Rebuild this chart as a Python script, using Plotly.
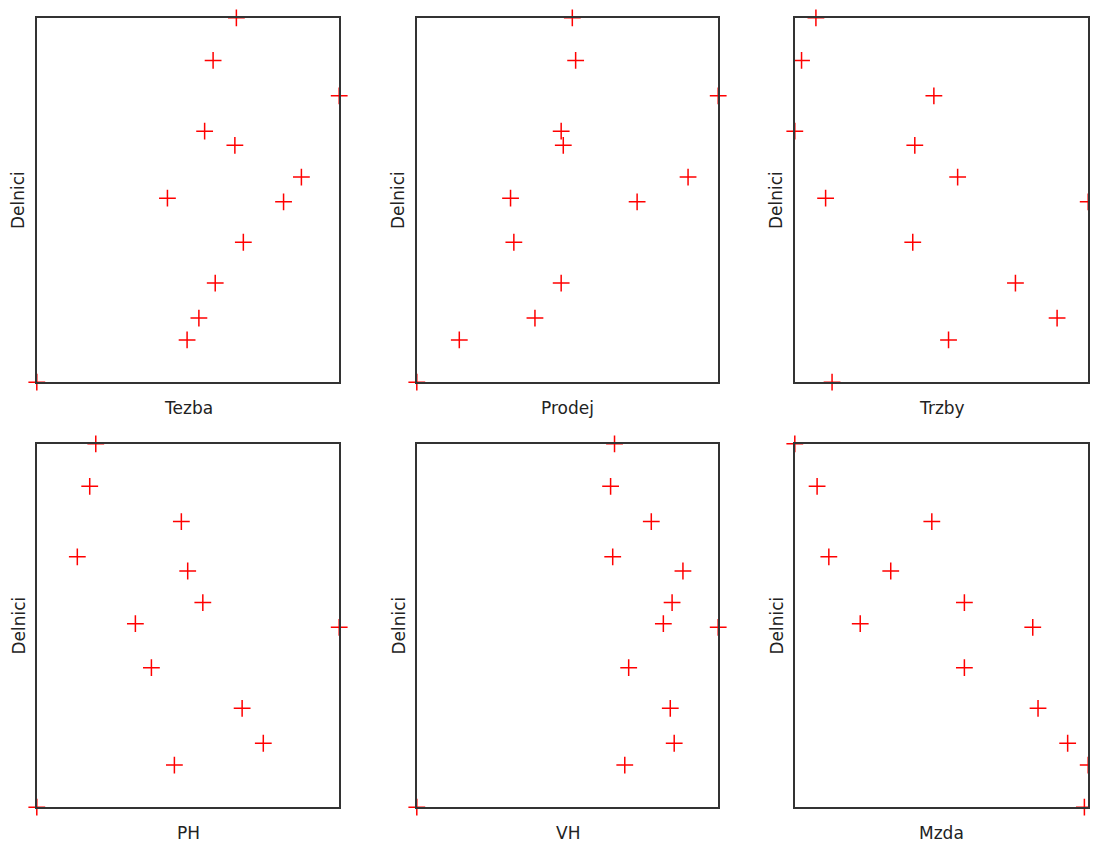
import plotly.graph_objects as go

# Shared y variable (relative units, 0 = min, 100 = max)
delnici = [100, 88.3, 78.6, 68.9, 65.0, 56.3, 50.5, 49.5, 38.4, 27.2, 17.6, 11.6, 0]

# x variables (relative units, 0 = min, 100 = max)
tezba = [66.0, 58.3, 100, 55.5, 65.5, 87.5, 43.2, 81.6, 68.3, 59.0, 53.6, 49.7, 0]
prodej = [51.6, 52.7, 100, 47.9, 48.6, 90.0, 31.1, 73.1, 32.2, 47.9, 39.2, 14.1, 0]
trzby = [7.2, 2.3, 47.4, 0, 40.9, 55.5, 10.5, 100, 40.2, 75.2, 89.4, 52.4, 12.7]
ph = [19.5, 17.5, 47.8, 13.4, 49.9, 54.9, 32.6, 100, 37.9, 67.9, 74.9, 45.5, 0]
vh = [65.6, 64.3, 77.8, 65.0, 88.3, 84.7, 81.8, 100, 70.3, 84.1, 85.4, 69.0, 0]
mzda = [0, 7.6, 46.7, 11.6, 32.7, 57.8, 22.3, 81.1, 57.8, 82.9, 93.0, 100, 98.7]

x_names = ["Tezba", "Prodej", "Trzby", "PH", "VH", "Mzda"]
x_series = [tezba, prodej, trzby, ph, vh, mzda]
y_name = "Delnici"

# The page body adds an 8 px margin, so the figure is drawn 8 px in from the corner
OFF = 8
W, H = 1098 - OFF, 844 - OFF
col_px = [(36, 340), (416, 719), (794, 1089)]   # page pixels
row_px = [(17, 383), (443, 808)]

FONT = "DejaVu Sans"
TXT = "#222222"
FS = 17

fig = go.Figure()
layout = dict(
    width=W, height=H,
    margin=dict(l=0, r=0, t=0, b=0),
    paper_bgcolor="white", plot_bgcolor="white",
    showlegend=False,
    font=dict(family=FONT, size=FS, color=TXT),
    annotations=[],
)

def fx(p):
    return (p - OFF) / W

def fy(p):
    return 1 - (p - OFF) / H

for i, (name, xs) in enumerate(zip(x_names, x_series)):
    r, c = divmod(i, 3)
    x0, x1 = col_px[c]
    y0, y1 = row_px[r]
    n = "" if i == 0 else str(i + 1)
    fig.add_trace(go.Scatter(
        x=xs, y=delnici, mode="markers",
        xaxis="x" + n, yaxis="y" + n,
        cliponaxis=False,
        marker=dict(symbol="cross-thin", size=12,
                    line=dict(color="#ff0000", width=1.5), color="#ff0000"),
        hoverinfo="x+y",
    ))
    ax_common = dict(
        showgrid=False, zeroline=False, showticklabels=False, ticks="",
        showline=True, mirror=True, linecolor="#333333", linewidth=1.6,
        range=[0, 100], fixedrange=True, layer="above traces",
    )
    layout["xaxis" + n] = dict(ax_common, domain=[fx(x0 + 0.8), fx(x1 - 0.8)], anchor="y" + n)
    layout["yaxis" + n] = dict(ax_common, domain=[fy(y1 - 0.8), fy(y0 + 0.8)], anchor="x" + n)
    # axis titles
    layout["annotations"].append(dict(
        text=name, xref="paper", yref="paper",
        x=fx((x0 + x1) / 2), y=fy(y1 + 25),
        xanchor="center", yanchor="middle", showarrow=False,
        font=dict(family=FONT, size=FS, color=TXT),
    ))
    layout["annotations"].append(dict(
        text=y_name, xref="paper", yref="paper",
        x=fx(x0 - 18), y=fy((y0 + y1) / 2),
        xanchor="center", yanchor="middle", showarrow=False, textangle=-90,
        font=dict(family=FONT, size=FS, color=TXT),
    ))

fig.update_layout(**layout)
fig.write_html("out.html")
